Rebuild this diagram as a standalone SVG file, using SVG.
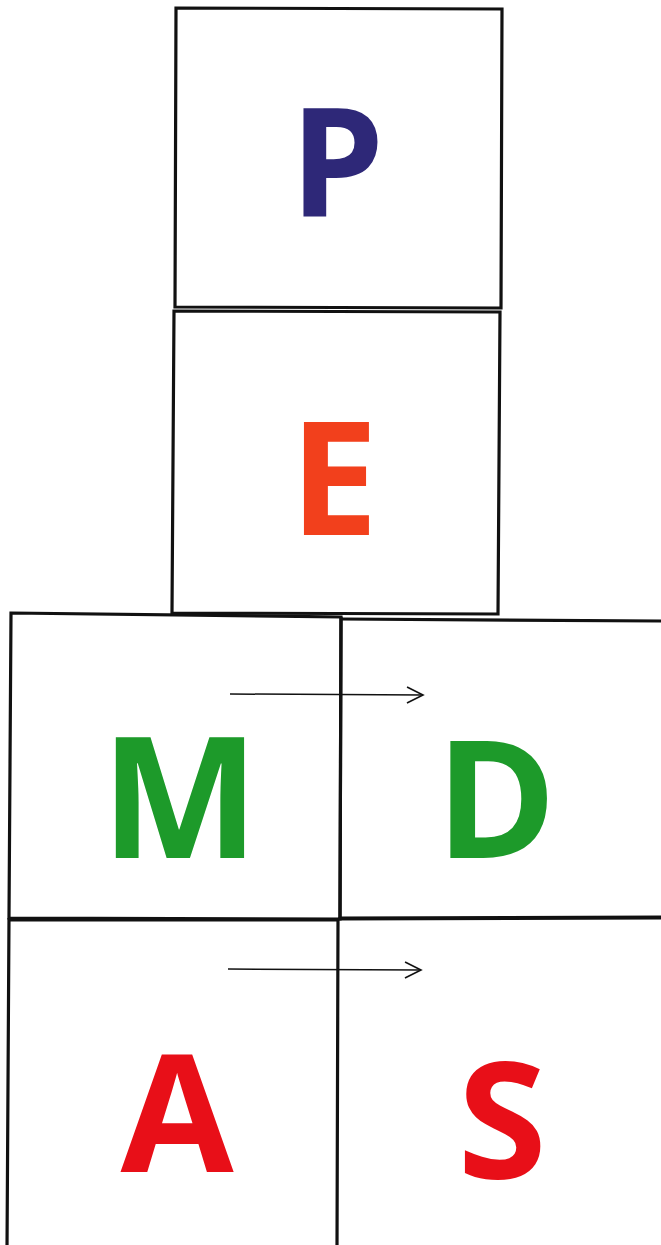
<svg xmlns="http://www.w3.org/2000/svg" width="661" height="1245" viewBox="0 0 661 1245">
<style>
.box{fill:none;stroke:#111;stroke-width:3.2}
.ltr{font-family:"Open Sans","Noto Sans","Liberation Sans",sans-serif;font-weight:700;text-anchor:middle}
.arr{stroke:#111;stroke-width:1.5;fill:none}
</style>
<defs>
<marker id="chev" viewBox="0 0 20 20" refX="18" refY="10" markerWidth="20" markerHeight="20" markerUnits="userSpaceOnUse" orient="auto">
<path d="M2,2 L18,10 L2,18" fill="none" stroke="#111" stroke-width="1.6"/>
</marker>
</defs>
<rect width="661" height="1245" fill="#fff"/>
<g id="node-P">
<path class="box" d="M176,8 L502,9 L501,308 L175,307 Z"/>
<text class="ltr" x="337" y="216" font-size="150" fill="#2e2878">P</text>
</g>
<g id="node-E">
<path class="box" d="M174,311 L500,312 L498,614 L172,613 Z"/>
<text class="ltr" x="334" y="535" font-size="158" fill="#f2401c">E</text>
</g>
<g id="node-M">
<path class="box" d="M11,613 L341,617 L340,919 L9,918 Z"/>
<text class="ltr" x="180" y="858" font-size="168" fill="#1d9a2a">M</text>
</g>
<g id="node-D">
<path class="box" d="M341,619 L665,621"/>
<path class="box" d="M341,617 L340,919 M340,918 L665,917"/>
<text class="ltr" x="496" y="858" font-size="163" fill="#1d9a2a">D</text>
</g>
<g id="node-A">
<path class="box" d="M9,920 L338,920 L337,1250 M9,918 L7,1250"/>
<text class="ltr" x="177" y="1172" font-size="164" fill="#e80f18">A</text>
</g>
<g id="node-S">
<path class="box" d="M338,919 L665,918"/>
<text class="ltr" x="502" y="1178" font-size="162" fill="#e80f18">S</text>
</g>
<g id="connectors">
<line class="arr" x1="230" y1="694" x2="423" y2="695" marker-end="url(#chev)"/>
<line class="arr" x1="228" y1="969" x2="421" y2="970" marker-end="url(#chev)"/>
</g>
</svg>
